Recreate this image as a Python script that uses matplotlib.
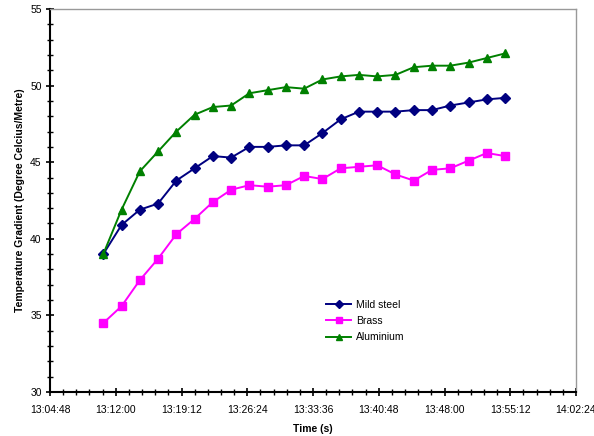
"""Temperature gradient vs time for three bar materials."""

import matplotlib
matplotlib.use("Agg")
import matplotlib.pyplot as plt
from matplotlib.ticker import FuncFormatter, MultipleLocator

# ── data ────────────────────────────────────────────────────────────
times = [
    "13:10:38", "13:12:38", "13:14:38", "13:16:38", "13:18:38", "13:20:38",
    "13:22:38", "13:24:38", "13:26:38", "13:28:38", "13:30:38", "13:32:38",
    "13:34:38", "13:36:38", "13:38:38", "13:40:38", "13:42:38", "13:44:38",
    "13:46:38", "13:48:38", "13:50:38", "13:52:38", "13:54:38",
]
mild_steel = [39.0, 40.9, 41.9, 42.3, 43.8, 44.6, 45.4, 45.3, 46.0, 46.0,
              46.1, 46.1, 46.9, 47.8, 48.3, 48.3, 48.3, 48.4, 48.4, 48.7,
              48.9, 49.1, 49.2]
brass = [34.5, 35.6, 37.3, 38.7, 40.3, 41.3, 42.4, 43.2, 43.5, 43.4,
         43.5, 44.1, 43.9, 44.6, 44.7, 44.8, 44.2, 43.8, 44.5, 44.6,
         45.1, 45.6, 45.4]
aluminium = [39.0, 41.9, 44.4, 45.7, 47.0, 48.1, 48.6, 48.7, 49.5, 49.7,
             49.9, 49.8, 50.4, 50.6, 50.7, 50.6, 50.7, 51.2, 51.3, 51.3,
             51.5, 51.8, 52.1]
x_min, x_max = "13:04:48", "14:02:24"


def to_sec(hms):
    h, m, s = (int(p) for p in hms.split(":"))
    return h * 3600 + m * 60 + s


def fmt_sec(v, _pos=None):
    v = int(round(v))
    return f"{v // 3600:02d}:{v % 3600 // 60:02d}:{v % 60:02d}"


plt.rcParams["font.family"] = ["Liberation Sans", "DejaVu Sans"]

fig = plt.figure(figsize=(5.94, 4.36), dpi=100)
ax = fig.add_axes([50 / 594, 1 - 392 / 436, 526 / 594, 383 / 436])

t = [to_sec(s) for s in times]
ax.plot(t, mild_steel, color="#000080", marker="D", markersize=5,
        linewidth=1.4, label="Mild steel")
ax.plot(t, brass, color="#FF00FF", marker="s", markersize=6,
        linewidth=1.4, label="Brass")
ax.plot(t, aluminium, color="#008000", marker="^", markersize=6,
        linewidth=1.4, label="Aluminium")

ax.set_xlim(to_sec(x_min), to_sec(x_max))
ax.set_ylim(30, 55)
ax.xaxis.set_major_locator(MultipleLocator(432))
ax.xaxis.set_minor_locator(MultipleLocator(86.4))
ax.xaxis.set_major_formatter(FuncFormatter(fmt_sec))
ax.yaxis.set_major_locator(MultipleLocator(5))
ax.yaxis.set_minor_locator(MultipleLocator(1))

ax.tick_params(which="major", direction="inout", length=6, width=1.2,
               labelsize=7.5)
ax.tick_params(axis="x", which="major", pad=6)
ax.tick_params(axis="y", which="major", pad=3)
ax.tick_params(which="minor", direction="inout", length=4, width=1.0)

for side in ("left", "bottom"):
    ax.spines[side].set_linewidth(1.5)
    ax.spines[side].set_color("black")
for side in ("top", "right"):
    ax.spines[side].set_linewidth(1.0)
    ax.spines[side].set_color("#999999")

ax.set_xlabel("Time (s)", fontsize=7.5, fontweight="bold", labelpad=7)
ax.set_ylabel("Temperature Gradient (Degree Celcius/Metre)", fontsize=7.5,
              fontweight="bold", labelpad=4)

ax.legend(loc="upper left", bbox_to_anchor=(0.517, 0.252), frameon=False,
          fontsize=7.5, handlelength=2.4, handletextpad=0.5,
          labelspacing=0.6, borderaxespad=0, markerscale=0.8)

fig.savefig("out.png", dpi=100)
